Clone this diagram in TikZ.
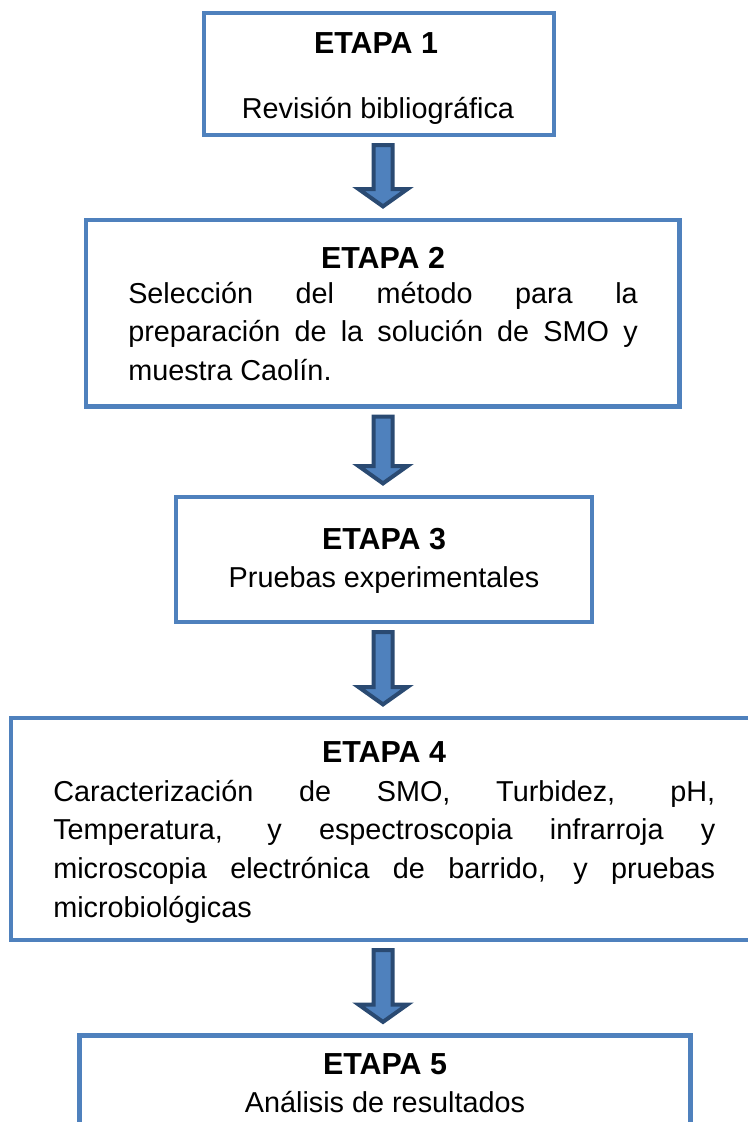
\documentclass[tikz,border=0pt]{standalone}
\usepackage{fontspec}
\setmainfont{Liberation Sans}
\usetikzlibrary{calc}
\definecolor{boxblue}{HTML}{4F81BD}
\definecolor{arrowdark}{HTML}{2A4A72}
\newcommand\txtsize{\fontsize{21.6pt}{29pt}\selectfont}
\newcommand\headsize{\fontsize{22.8pt}{29pt}\selectfont}
\newcommand\flowarrow[2]{%
  \draw[bigarrow] ($(#1.south -| ax)+(-9.5,10)$) -- ($(#1.south -| ax)+(9.5,10)$)
    -- ($(#2.north -| ax)+(9.5,-31)$) -- ($(#2.north -| ax)+(24.5,-31)$)
    -- ($(#2.north -| ax)+(0,-13.6)$) -- ($(#2.north -| ax)+(-24.5,-31)$)
    -- ($(#2.north -| ax)+(-9.5,-31)$) -- cycle;}
\begin{document}
\begin{tikzpicture}[x=0.75pt,y=-0.75pt,
  stagebox/.style={draw=boxblue, line width=3.4pt, rectangle, inner sep=0pt, outer sep=0pt},
  headtxt/.style={font=\bfseries\headsize, anchor=base, inner sep=0pt},
  centertxt/.style={font=\txtsize, anchor=base, inner sep=0pt},
  justtxt/.style={font=\txtsize, anchor=base west, inner sep=0pt, align=justify},
  bigarrow/.style={fill=boxblue, draw=arrowdark, line width=3pt, line join=miter}]
\fill[white] (0,0) rectangle (747,1122);
\useasboundingbox (0,0) rectangle (747,1122);
\coordinate (ax) at (383,0);
% boxes
\node[stagebox, minimum width=350*0.75pt, minimum height=122*0.75pt] (b1) at (379,74) {};
\node[stagebox, minimum width=593.5*0.75pt, minimum height=186.5*0.75pt] (b2) at (382.75,313.25) {};
\node[stagebox, minimum width=416*0.75pt, minimum height=125*0.75pt] (b3) at (384,559.5) {};
\node[stagebox, minimum width=746*0.75pt, minimum height=222*0.75pt] (b4) at (384,829) {};
\node[stagebox, minimum width=611*0.75pt, minimum height=164.5*0.75pt] (b5) at (385,1117.75) {};
% texts
\node[headtxt] (h1) at (376,53) {ETAPA 1};
\node[centertxt] (t1) at (378,118) {Revisión bibliográfica};
\node[headtxt] (h2) at (383,268) {ETAPA 2};
\node[justtxt, text width=509.5*0.75pt] (t2) at (128,303) {\tolerance=10000\hyphenpenalty=10000
  Selección del método para la\linebreak
  preparación de la solución de SMO y\linebreak
  muestra Caolín.};
\node[headtxt] (h3) at (384,549) {ETAPA 3};
\node[centertxt] (t3) at (384,587) {Pruebas experimentales};
\node[headtxt] (h4) at (384,762) {ETAPA 4};
\node[justtxt, text width=662*0.75pt] (t4) at (53,801) {\tolerance=10000\hyphenpenalty=10000
  Caracterización de SMO, Turbidez, pH,\linebreak
  Temperatura, y espectroscopia infrarroja y\linebreak
  microscopia electrónica de barrido, y pruebas\linebreak
  microbiológicas};
\node[headtxt] (h5) at (385,1074) {ETAPA 5};
\node[centertxt] (t5) at (385,1112) {Análisis de resultados};
% arrows
\flowarrow{b1}{b2}
\flowarrow{b2}{b3}
\flowarrow{b3}{b4}
\flowarrow{b4}{b5}
\end{tikzpicture}
\end{document}
